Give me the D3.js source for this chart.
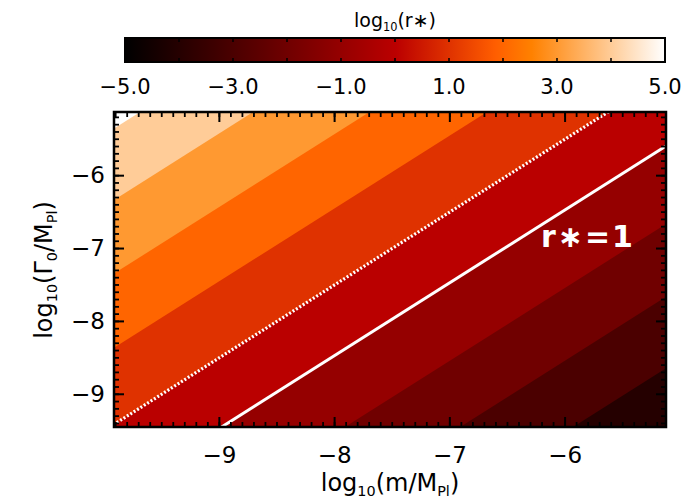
<!DOCTYPE html>
<html><head><meta charset="utf-8">
<script src="https://cdn.jsdelivr.net/npm/d3@7"></script>
<style>body{margin:0;background:#fff} svg{display:block} text{font-family:"DejaVu Sans",sans-serif}</style>
</head><body><svg id="c" width="700" height="500"></svg>
<script>
// ---------------- data ----------------
const xDomain = [-9.91, -5.12];          // log10(m/MPl)
const yDomain = [-9.456, -5.133];        // log10(Γ0/MPl)
const contourLevels = [-3, -2, -1, 0, 1, 2, 3, 4, 5];                           // log10(r*) levels
const contourIntercepts = [-3.53, -2.55, -1.55, -0.48, 0.49, 1.54, 2.56, 3.57, 4.55]; // y - x along each level line
const contourSlope = 1.0;
const lowestBand = -4;
const solidLevel = 0;    // r* = 1
const dottedLevel = 1;
const xTicks = [-9, -8, -7, -6];
const yTicks = [-9, -8, -7, -6];
const cbDomain = [-5, 5];
const cbTicks = [-5, -3, -1, 1, 3, 5];
const cbMinorTicks = [-4, -3, -2, -1, 0, 1, 2, 3, 4];
const cmapStops = [-5, 0.02, 1.86, 2.53, 5];
const cmapColors = ["#000000", "#bb0000", "#ff5e00", "#ff8100", "#ffffff"];

// ---------------- layout ----------------
const svg = d3.select("#c");
const P = {l: 114, r: 666, t: 112, b: 427};
const x = d3.scaleLinear().domain(xDomain).range([P.l, P.r]);
const y = d3.scaleLinear().domain(yDomain).range([P.b, P.t]);
const cmap = d3.scaleLinear().domain(cmapStops).range(cmapColors).clamp(true);

svg.append("clipPath").attr("id", "clip").append("rect")
  .attr("x", P.l).attr("y", P.t).attr("width", P.r - P.l).attr("height", P.b - P.t);

const g = svg.append("g").attr("clip-path", "url(#clip)");
g.append("rect").attr("x", P.l).attr("y", P.t).attr("width", P.r - P.l).attr("height", P.b - P.t)
  .attr("fill", cmap(lowestBand));

const xa = xDomain[0] - 2, xb = xDomain[1] + 2, yTop = yDomain[1] + 20;
const bands = contourLevels.map((lv, i) => ({level: lv, u: contourIntercepts[i]}));
g.selectAll("path.band").data(bands).enter().append("path")
  .attr("class", "band")
  .attr("fill", d => cmap(d.level))
  .attr("d", d => {
    const pts = [[xa, contourSlope * xa + d.u], [xb, contourSlope * xb + d.u], [xb, yTop], [xa, yTop]];
    return "M" + pts.map(p => [x(p[0]), y(p[1])].join(",")).join("L") + "Z";
  });

function levelLine(lv) {
  const u = contourIntercepts[contourLevels.indexOf(lv)];
  return d3.line().x(p => x(p)).y(p => y(contourSlope * p + u))([xa, xb]);
}
g.append("path").attr("d", levelLine(solidLevel)).attr("stroke", "#fff").attr("stroke-width", 3).attr("fill", "none");
g.append("path").attr("d", levelLine(dottedLevel)).attr("stroke", "#fff").attr("stroke-width", 3.2)
  .attr("stroke-dasharray", "2,2").attr("fill", "none");

// r*=1 label
svg.append("text").attr("x", 541).attr("y", 247).attr("fill", "#fff")
  .attr("font-size", 30).attr("font-weight", "bold").attr("letter-spacing", 2).text("r\u2217=1");

// ---------------- axes ----------------
const xMinor = d3.range(-99, -51).map(d => d / 10);
const yMinor = d3.range(-94, -51).map(d => d / 10);
function styleAxis(sel, w) {
  sel.select(".domain").remove();
  sel.selectAll(".tick line").attr("stroke", "#000").attr("stroke-width", w);
  sel.selectAll("text").attr("font-size", 23).attr("fill", "#000").attr("font-family", "DejaVu Sans");
}
// minor
styleAxis(svg.append("g").attr("transform", `translate(0,${P.b})`).call(d3.axisBottom(x).tickValues(xMinor).tickSize(-5).tickFormat("")), 1.8);
styleAxis(svg.append("g").attr("transform", `translate(0,${P.t})`).call(d3.axisTop(x).tickValues(xMinor).tickSize(-5).tickFormat("")), 1.8);
styleAxis(svg.append("g").attr("transform", `translate(${P.l},0)`).call(d3.axisLeft(y).tickValues(yMinor).tickSize(-5).tickFormat("")), 1.8);
styleAxis(svg.append("g").attr("transform", `translate(${P.r},0)`).call(d3.axisRight(y).tickValues(yMinor).tickSize(-5).tickFormat("")), 1.8);
// major
styleAxis(svg.append("g").attr("transform", `translate(0,${P.b})`).call(d3.axisBottom(x).tickValues(xTicks).tickSize(-10).tickPadding(20).tickFormat(d3.format("d"))), 2);
styleAxis(svg.append("g").attr("transform", `translate(0,${P.t})`).call(d3.axisTop(x).tickValues(xTicks).tickSize(-10).tickFormat("")), 2);
styleAxis(svg.append("g").attr("transform", `translate(${P.l},0)`).call(d3.axisLeft(y).tickValues(yTicks).tickSize(-10).tickPadding(9).tickFormat(d3.format("d"))), 2);
styleAxis(svg.append("g").attr("transform", `translate(${P.r},0)`).call(d3.axisRight(y).tickValues(yTicks).tickSize(-10).tickFormat("")), 2);

svg.append("rect").attr("x", P.l).attr("y", P.t).attr("width", P.r - P.l).attr("height", P.b - P.t)
  .attr("fill", "none").attr("stroke", "#000").attr("stroke-width", 2.5);

// axis titles
const xt = svg.append("text").attr("transform", "translate(390,491)").attr("text-anchor", "middle").attr("font-size", 24);
xt.append("tspan").text("log");
xt.append("tspan").attr("font-size", "60%").attr("dy", 5).text("10");
xt.append("tspan").attr("dy", -5).text("(m/M");
xt.append("tspan").attr("font-size", "60%").attr("dy", 5).text("Pl");
xt.append("tspan").attr("dy", -5).text(")");

const yt = svg.append("text").attr("transform", "translate(52,270) rotate(-90)").attr("text-anchor", "middle").attr("font-size", 24);
yt.append("tspan").text("log");
yt.append("tspan").attr("font-size", "60%").attr("dy", 5).text("10");
yt.append("tspan").attr("dy", -5).text("(\u0393");
yt.append("tspan").attr("font-size", "60%").attr("dy", 5).text("0");
yt.append("tspan").attr("dy", -5).text("/M");
yt.append("tspan").attr("font-size", "60%").attr("dy", 5).text("Pl");
yt.append("tspan").attr("dy", -5).text(")");

// ---------------- colour bar ----------------
const CB = {l: 125, r: 665, t: 38, b: 62};
const cx = d3.scaleLinear().domain(cbDomain).range([CB.l, CB.r]);
const grad = svg.append("defs").append("linearGradient").attr("id", "cbg").attr("x1", "0%").attr("x2", "100%");
grad.selectAll("stop").data(cmapStops).enter().append("stop")
  .attr("offset", d => ((d - cbDomain[0]) / (cbDomain[1] - cbDomain[0]) * 100) + "%")
  .attr("stop-color", (d, i) => cmapColors[i]);
svg.append("rect").attr("x", CB.l).attr("y", CB.t).attr("width", CB.r - CB.l).attr("height", CB.b - CB.t)
  .attr("fill", "url(#cbg)");
svg.append("g").selectAll("line.cbt").data(cbMinorTicks).enter().append("line")
  .attr("x1", d => cx(d)).attr("x2", d => cx(d)).attr("y1", CB.t).attr("y2", CB.t + 4)
  .attr("stroke", "#000").attr("stroke-width", 1.5);
svg.append("g").selectAll("line.cbb").data(cbMinorTicks).enter().append("line")
  .attr("x1", d => cx(d)).attr("x2", d => cx(d)).attr("y1", CB.b).attr("y2", CB.b - 4)
  .attr("stroke", "#000").attr("stroke-width", 1.5);
svg.append("rect").attr("x", CB.l).attr("y", CB.t).attr("width", CB.r - CB.l).attr("height", CB.b - CB.t)
  .attr("fill", "none").attr("stroke", "#000").attr("stroke-width", 2);
svg.append("g").selectAll("text").data(cbTicks).enter().append("text")
  .attr("x", d => cx(d)).attr("y", 94).attr("text-anchor", "middle").attr("font-size", 21)
  .text(d => d3.format(".1f")(d));
const ct = svg.append("text").attr("x", 395).attr("y", 27).attr("text-anchor", "middle").attr("font-size", 19);
ct.append("tspan").text("log");
ct.append("tspan").attr("font-size", "60%").attr("dy", 4).text("10");
ct.append("tspan").attr("dy", -4).text("(r\u2217)");
</script></body></html>
